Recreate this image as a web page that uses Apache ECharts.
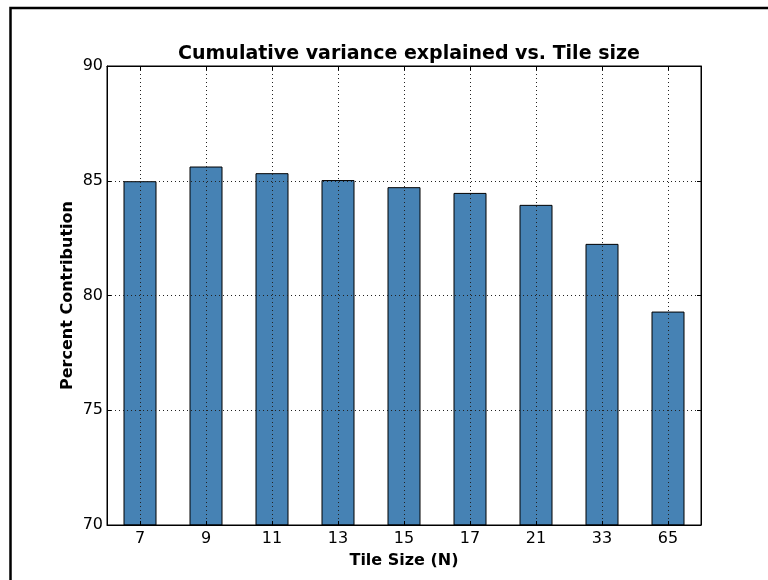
<!DOCTYPE html>
<html>
<head>
<meta charset="utf-8">
<script src="https://cdn.jsdelivr.net/npm/echarts@6/dist/echarts.min.js"></script>
<style>html,body{margin:0;padding:0;background:#fff}#c{width:768px;height:580px}</style>
</head>
<body>
<div id="c"></div>
<script>
var categories = ['7', '9', '11', '13', '15', '17', '21', '33', '65'];
var values = [84.98, 85.62, 85.33, 85.03, 84.72, 84.47, 83.95, 82.25, 79.30];
var yTicks = [70, 75, 80, 85, 90];

var FONT = 'DejaVu Sans';
var chart = echarts.init(document.getElementById('c'), null, {renderer: 'canvas'});
var dotted = {color: '#222', width: 1, type: [1, 3]};
chart.setOption({
  animation: false,
  backgroundColor: '#fff',
  title: {
    text: 'Cumulative variance explained vs. Tile size',
    left: 404, top: 40, textAlign: 'center',
    textStyle: {fontFamily: FONT, fontWeight: 'bold', fontSize: 19, color: '#000'}
  },
  graphic: [{
    type: 'rect', z: 100,
    shape: {x: 10.5, y: 8, width: 820, height: 640},
    style: {fill: 'none', stroke: '#000', lineWidth: 2.5}
  }],
  grid: {left: 107, top: 66, right: 67, bottom: 55, show: true, borderColor: '#000', borderWidth: 1, backgroundColor: 'transparent', z: 10},
  xAxis: [{
    type: 'category', data: categories, position: 'bottom', z: 10,
    name: 'Tile Size (N)', nameLocation: 'middle', nameGap: 28, nameMoveOverlap: false,
    nameTextStyle: {fontFamily: FONT, fontWeight: 'bold', fontSize: 16, color: '#000'},
    axisLine: {show: true, lineStyle: {color: '#000', width: 1}},
    axisTick: {show: true, inside: true, length: 4, alignWithLabel: true, lineStyle: {color: '#000'}},
    axisLabel: {fontFamily: FONT, fontSize: 16, color: '#000', margin: 6},
    splitLine: {show: true, alignWithLabel: true, lineStyle: dotted}
  }, {
    type: 'category', data: categories, position: 'top', z: 10,
    axisLine: {show: true, lineStyle: {color: '#000', width: 1}},
    axisTick: {show: true, inside: true, length: 4, alignWithLabel: true, lineStyle: {color: '#000'}},
    axisLabel: {show: false},
    splitLine: {show: false}
  }],
  yAxis: [{
    type: 'value', min: 70, max: 90, interval: 5, position: 'left', z: 10,
    name: 'Percent Contribution', nameLocation: 'middle', nameGap: 31, nameMoveOverlap: false,
    nameTextStyle: {fontFamily: FONT, fontWeight: 'bold', fontSize: 16, color: '#000'},
    axisLine: {show: true, lineStyle: {color: '#000', width: 1}},
    axisTick: {show: true, inside: true, length: 4, lineStyle: {color: '#000'}},
    axisLabel: {fontFamily: FONT, fontSize: 16, color: '#000', margin: 4,
      customValues: yTicks},
    splitLine: {show: true, lineStyle: dotted}
  }, {
    type: 'value', min: 70, max: 90, interval: 5, position: 'right', z: 10,
    axisLine: {show: true, lineStyle: {color: '#000', width: 1}},
    axisTick: {show: true, inside: true, length: 4, lineStyle: {color: '#000'}},
    axisLabel: {show: false},
    splitLine: {show: false}
  }],
  series: [{
    type: 'bar', data: values, barWidth: '50%', z: 2,
    itemStyle: {color: '#4682b4', borderColor: '#000', borderWidth: 1}
  }]
});
</script>
</body>
</html>
